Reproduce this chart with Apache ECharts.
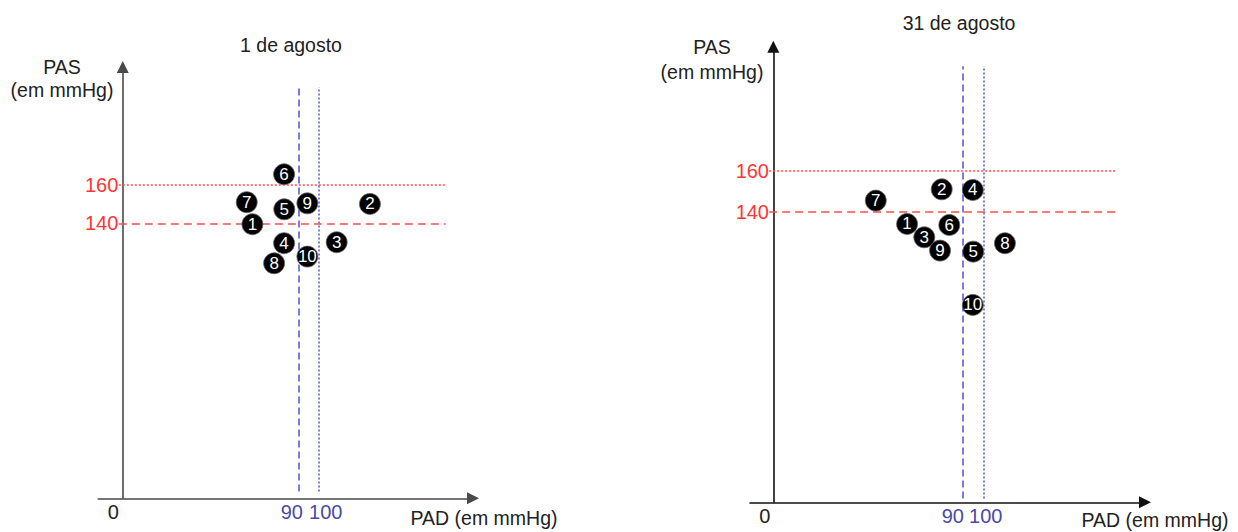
<!DOCTYPE html>
<html>
<head>
<meta charset="utf-8">
<script src="https://cdn.jsdelivr.net/npm/echarts@6/dist/echarts.min.js"></script>
<style>
html,body{margin:0;padding:0;background:#fff;}
#chart{width:1238px;height:532px;}
</style>
</head>
<body>
<div id="chart"></div>
<script>
// ---- Data ----
const pointLabels = ['1','2','3','4','5','6','7','8','9','10'];
// 1 de agosto
const padAug1 = [66.3, 126.4, 109.4, 82.5, 82.6, 82.5, 63.4, 77.4, 94.4, 94.4];
const pasAug1 = [139.5, 150.1, 130.1, 129.6, 147.3, 165.6, 151.0, 119.1, 150.4, 122.6];
// 31 de agosto
const padAug31 = [63.7, 80.2, 71.9, 95.0, 95.2, 83.8, 48.8, 110.3, 79.4, 95.0];
const pasAug31 = [134.0, 150.9, 127.5, 150.6, 120.5, 133.5, 145.4, 124.6, 121.0, 94.5];
// reference limits
const padLimits = [90, 100];
const pasLimits = [140, 160];
const xTickLabels = [0, 90, 100];
const yTickLabels = [140, 160];
const titles = ['1 de agosto', '31 de agosto'];

const FONT = 'Liberation Sans, Arial, Helvetica, sans-serif';
const RED_TXT = '#ff3535';
const RED_LN = '#ff4d4d';
const BLUE_TXT = '#4a4aa8';
const BLUE_LN = '#5c5cd0';
const TICK_FS = 20;

function pts(xs, ys){ return xs.map((x,i)=>({value:[x, ys[i]], name: pointLabels[i]})); }

function xAxisCfg(idx, min, max, pads, axisColor){
  return {
    type:'value', gridIndex: idx, min:min, max:max,
    splitLine:{show:false},
    axisTick:{show:false},
    axisLine:{onZero:false, lineStyle:{color:axisColor, width:1.6}, symbol:['none','triangle'], symbolSize:[12,12]},
    axisLabel:{
      customValues: xTickLabels, margin:4, fontSize:TICK_FS, fontFamily:FONT,
      formatter: v => v===0 ? '{z|0}' : (v===90 ? '{a|90}' : '{b|100}'),
      rich:{
        z:{color:'#222', fontSize:TICK_FS, fontFamily:FONT, padding:[0,pads[0],0,0]},
        a:{color:BLUE_TXT, fontSize:TICK_FS, fontFamily:FONT, padding:[0,pads[1],0,0]},
        b:{color:BLUE_TXT, fontSize:TICK_FS, fontFamily:FONT, padding:[0,0,0,pads[2]]}
      }
    }
  };
}
function yAxisCfg(idx, min, max, axisColor, margin){
  return {
    type:'value', gridIndex: idx, min:min, max:max,
    splitLine:{show:false},
    axisTick:{show:false},
    axisLine:{onZero:true, lineStyle:{color:axisColor, width:1.6}, symbol:['none','triangle'], symbolSize:[12,12]},
    axisLabel:{customValues: yTickLabels, margin:margin, fontSize:TICK_FS, fontFamily:FONT, color:RED_TXT}
  };
}
function refLines(xEnd, yTop){
  return {
    silent:true, symbol:['none','none'], label:{show:false},
    data:[
      [{coord:[padLimits[0], 0], lineStyle:{color:BLUE_LN, type:[7,4], width:1.6}}, {coord:[padLimits[0], yTop]}],
      [{coord:[padLimits[1], 0], lineStyle:{color:BLUE_LN, type:[2,2], width:1.6}}, {coord:[padLimits[1], yTop]}],
      [{coord:[-2, pasLimits[0]], lineStyle:{color:RED_LN, type:[8,5], width:1.6}}, {coord:[xEnd, pasLimits[0]]}],
      [{coord:[-2, pasLimits[1]], lineStyle:{color:RED_LN, type:[2,2], width:1.6}}, {coord:[xEnd, pasLimits[1]]}]
    ]
  };
}
function scatter(idx, data, ml){
  return {
    type:'scatter', xAxisIndex:idx, yAxisIndex:idx, data:data,
    symbolSize:21, z:5,
    itemStyle:{color:'#000', opacity:1, borderColor:'#666', borderWidth:0.8},
    label:{show:true, position:'inside', formatter: p => p.name, color:'#fff', fontSize:17, fontFamily:FONT},
    emphasis:{disabled:true},
    markLine: ml
  };
}

const chart = echarts.init(document.getElementById('chart'), null, {renderer:'svg'});
chart.setOption({
  backgroundColor:'#fff',
  animation:false,
  grid:[
    {left:98.3, top:67, width:374.7, height:431.3},
    {left:750, top:46.7, width:395, height:455.6}
  ],
  xAxis:[
    xAxisCfg(0, -12.5, 179.1, [19,14,15], '#4a4a4a'),
    xAxisCfg(1, -11.1, 177.0, [17,19,5], '#111')
  ],
  yAxis:[
    yAxisCfg(0, -3.6, 221.6, '#4a4a4a', -20),
    yAxisCfg(1, -1.8, 220.5, '#111', -19)
  ],
  series:[
    scatter(0, pts(padAug1, pasAug1), refLines(165.1, 211)),
    scatter(1, pts(padAug31, pasAug31), refLines(163.5, 211))
  ],
  graphic:[
    {type:'text', x:291, y:45, style:{text:titles[0], font:'19.5px '+FONT, fill:'#222', align:'center', verticalAlign:'middle'}},
    {type:'text', x:959, y:22.7, style:{text:titles[1], font:'19.5px '+FONT, fill:'#222', align:'center', verticalAlign:'middle'}},
    {type:'text', x:62, y:66.7, style:{text:'PAS', font:'19.5px '+FONT, fill:'#222', align:'center', verticalAlign:'middle'}},
    {type:'text', x:62, y:90, style:{text:'(em mmHg)', font:'19.5px '+FONT, fill:'#222', align:'center', verticalAlign:'middle'}},
    {type:'text', x:712, y:46.7, style:{text:'PAS', font:'19.5px '+FONT, fill:'#222', align:'center', verticalAlign:'middle'}},
    {type:'text', x:712, y:71.7, style:{text:'(em mmHg)', font:'19.5px '+FONT, fill:'#222', align:'center', verticalAlign:'middle'}},
    {type:'text', x:484, y:518, style:{text:'PAD (em mmHg)', font:'19.5px '+FONT, fill:'#222', align:'center', verticalAlign:'middle'}},
    {type:'text', x:1155, y:520, style:{text:'PAD (em mmHg)', font:'19.5px '+FONT, fill:'#222', align:'center', verticalAlign:'middle'}}
  ]
});
</script>
</body>
</html>
